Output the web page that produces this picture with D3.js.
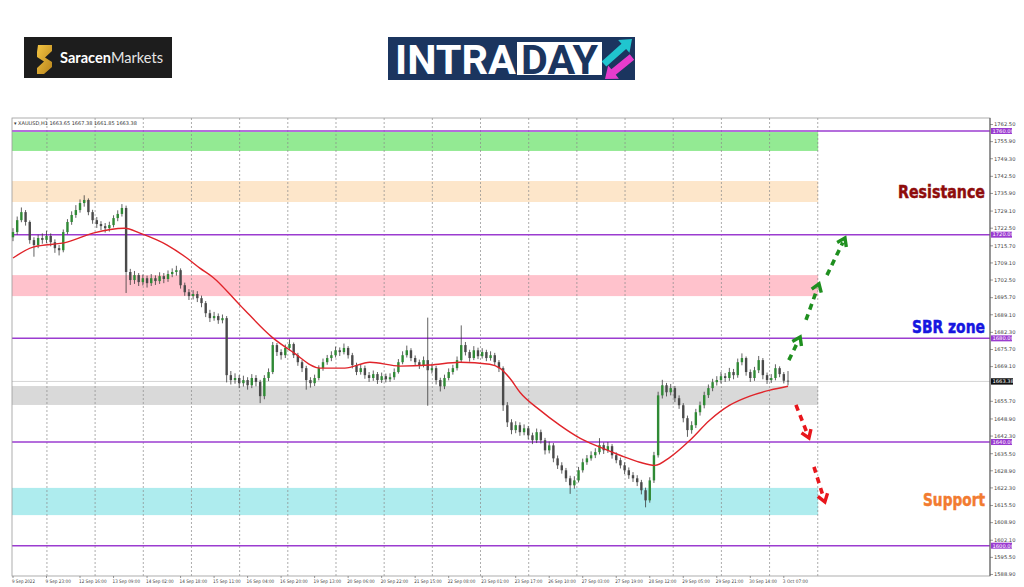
<!DOCTYPE html>
<html><head><meta charset="utf-8">
<script src="https://cdn.jsdelivr.net/npm/d3@7"></script>
<style>html,body{margin:0;padding:0;background:#fff;overflow:hidden}svg{display:block}</style>
</head><body>
<svg id="c" width="1024" height="587"></svg>
<script>
// ---------------- DATA ----------------
const symbolHeader = "\u25BE XAUUSD,H1  1663.65 1667.38 1661.85 1663.38";
const firstOpen = 1719;
const closes = [
1721,1725.6,1728.7,1724.9,1717.9,1716,1718.7,1718,1719.5,1717.1,
1714.8,1714,1721,1724.9,1727.6,1729.5,1732.2,1733.4,1728.7,1725.6,
1724.1,1723.3,1722.5,1723.7,1726.4,1728,1730.3,1705.6,1702.5,1704.4,
1701.7,1703.2,1701.3,1703.2,1702.1,1704,1702.9,1704.8,1705.6,1706.3,
1700.5,1697.8,1696.3,1697.1,1695.5,1693.6,1689.7,1687.8,1688.6,1687,
1687.8,1665.8,1663.9,1664.7,1662.7,1663.9,1661.9,1664.7,1663.2,1657.7,
1664.7,1667,1677.4,1674.7,1673.5,1676.3,1677.8,1673.5,1670.8,1668.5,
1663.9,1662.7,1664.7,1668.5,1670.8,1672.4,1673.5,1675.4,1674.7,1676.3,
1673.5,1669.7,1667,1668.5,1665.8,1664.7,1666.2,1663.9,1665.4,1664.2,
1665,1667,1670.8,1673.5,1675.4,1672.4,1670.8,1669.7,1671.6,1667.7,
1668.5,1663.9,1661.5,1664.7,1667,1668.5,1671.6,1677.4,1674.7,1672.4,
1675.4,1673.1,1674.7,1672.4,1673.5,1670.8,1668.5,1654.2,1647.6,1644.6,
1646.5,1643.8,1645.3,1642.6,1640.7,1643.8,1640.7,1636.8,1638.7,1633.7,
1631,1629.1,1626,1623.3,1625.2,1629.1,1632.2,1633.7,1634.9,1636.1,
1638.8,1636.8,1638.4,1634.9,1633,1631,1629.1,1627.2,1626,1624.5,
1621.4,1617.5,1625.2,1634.9,1658,1661.9,1659.2,1660.8,1656.9,1654.2,
1649.2,1644.6,1646.5,1651.5,1654.2,1658.1,1660.8,1663.1,1663.9,1665.4,
1664.7,1667,1665.8,1670.8,1672.4,1667,1664.7,1667.7,1671.6,1665.8,
1663.9,1664.7,1668.5,1666.2,1663.65,1663.38];
const highs = [
1722.5,1727,1730.5,1729.5,1725.5,1719,1720,1720.5,1721.5,1720.5,
1718.2,1716,1722,1726,1729,1731.4,1733.6,1735.2,1734,1729.6,
1726.8,1725.2,1724.5,1725,1727.5,1729.4,1731.8,1731.2,1706.8,1706,
1705.2,1704.6,1704.2,1704.8,1704.3,1705.5,1705.2,1706.2,1707,1708,
1707,1701.5,1699,1698.6,1698.2,1696.5,1694.4,1691,1690.2,1689.6,
1689.2,1688.6,1667.4,1666.5,1665.8,1665.6,1665,1666.2,1665.8,1664,
1665.8,1668.4,1678.6,1678.2,1675.8,1677.6,1679.6,1678.4,1674.4,1671.6,
1669.4,1665,1666,1669.6,1672.2,1673.6,1675,1676.8,1676.5,1678,
1677,1674.4,1670.6,1670,1669.5,1667,1667.6,1667,1666.8,1666.4,
1666.5,1668.4,1672,1675,1677.2,1676.2,1673.4,1671.8,1673,1688,
1670.2,1669.4,1664.8,1666,1668.4,1669.8,1673,1685,1678.6,1675.6,
1677,1676.4,1676.2,1675.6,1675,1674.4,1671.6,1669.2,1655.4,1648.8,
1648,1647.6,1646.8,1646.2,1643.6,1645.2,1644.8,1641.6,1640.2,1639.6,
1634.8,1632.2,1630,1627,1626.8,1630.4,1633.6,1635,1636.4,1637.6,
1641.5,1639.8,1640,1639.2,1636,1634,1632.2,1630.2,1628.4,1627.2,
1625.4,1622.4,1626.4,1636.2,1659.4,1664,1662.8,1662.4,1661.6,1658,
1655,1650.2,1648,1652.8,1655.6,1659.4,1662.2,1664.4,1665.4,1667,
1666.6,1668.6,1668.2,1672.2,1674.2,1673,1668,1669,1673.2,1672.4,
1666.8,1666.2,1670,1669.2,1667,1667.38];
const lows = [
1717.5,1720,1724.8,1723.5,1716.5,1711.5,1714.8,1716.5,1716.8,1715.5,
1713,1712,1713.2,1720.2,1723.8,1726.5,1728.5,1730.8,1727.5,1724.2,
1722.6,1721.8,1720.8,1721.2,1722.8,1725.2,1727,1697.5,1700.6,1701,
1700.2,1700.4,1699.6,1700.2,1700.6,1701,1701.3,1701.8,1703.6,1704.2,
1699.2,1696.4,1694.8,1695,1694,1692,1688.2,1686.3,1686.8,1685.6,
1685.8,1663,1662.2,1662.5,1660.8,1661.4,1660.2,1660.8,1661.5,1655,
1656.5,1663.5,1666.2,1673.2,1671.8,1672.4,1675.4,1672.4,1669.4,1667,
1660.2,1661,1661.6,1663.8,1667.5,1669.8,1671.2,1672.6,1673.2,1673.8,
1672.2,1668.4,1665.8,1666,1664.4,1663.2,1663.6,1662.4,1662.8,1663,
1663.2,1664,1666.4,1670,1672.6,1671.2,1669.6,1668.2,1668.8,1654,
1666.4,1662.2,1659.5,1660.4,1663.8,1666,1667.6,1670.8,1673.4,1671,
1671.6,1672,1672.2,1671.2,1671.4,1669.6,1667,1652,1645.8,1643,
1643.4,1642.4,1642.6,1641,1639.2,1639.6,1639.4,1635.2,1635.6,1632.2,
1629.6,1627.8,1624.6,1620,1622,1624.4,1628.2,1631.2,1632.8,1633.8,
1635.2,1635.4,1635.8,1633.6,1631.8,1629.8,1627.6,1625.8,1624.6,1623,
1619.8,1614.8,1616.6,1624.2,1634,1656.8,1657.6,1658,1655.4,1652.8,
1647.6,1642,1643.2,1645.4,1650.2,1653,1657,1659.6,1661.8,1662.6,
1663.2,1663.6,1664.2,1664.8,1669.6,1665.6,1663.2,1663.6,1666.6,1664.2,
1662.4,1662.8,1663.8,1665,1662.6,1661.85];
// moving average (candle index, price)
const maIndex = [0,4.8,12.9,19.1,26.7,30.3,36.8,41.5,44.6,47.7,54.2,62.1,66.8,73.3,79.2,85.2,92.4,99.5,106.7,113.8,116.2,118.6,121,125.8,130.5,135.3,140.1,144.9,149.6,153.2,156.8,161.6,166.3,171.1,175.9,180.7,185];
const maValues = [1711,1715.2,1717.1,1720.6,1722.5,1720.6,1716,1711,1707.1,1703.6,1692.8,1680.1,1674.7,1668.5,1668.5,1670.8,1669.3,1669.7,1670.8,1670,1668.5,1664.6,1659.2,1652.3,1646.5,1641.5,1638,1634.9,1632.2,1631,1634.1,1640.7,1648.4,1654.2,1657.7,1660,1661.5];
const levels = [1760,1720,1680,1640,1600];
const levelLabels = ["1760.00","1720.00","1680.00","1640.00","1600.00"];
const zoneLow  = [1752.3,1732.6,1696.3,1654.3,1611.8];
const zoneHigh = [1759.6,1740.7,1704.4,1661.6,1622.3];
const zoneColors = ["#93ea93","#fde6ca","#ffc2cc","#d9d9d9","#aeecee"];
const lastPrice = 1663.38;
const lastPriceLabel = "1663.38";
const yTickLabels = ["1762.50","1755.90","1749.30","1742.50","1735.90","1729.10","1722.50","1715.70","1709.10","1702.50","1695.70","1689.10","1682.30","1675.70","1669.10","1655.70","1648.90","1642.30","1635.50","1628.90","1622.30","1615.50","1608.90","1602.10","1595.50","1588.90"];
const xTickLabels = ["9 Sep 2022","9 Sep 23:00","12 Sep 16:00","13 Sep 09:00","14 Sep 02:00","14 Sep 18:00","15 Sep 11:00","16 Sep 04:00","16 Sep 20:00","19 Sep 13:00","20 Sep 06:00","20 Sep 22:00","21 Sep 15:00","22 Sep 08:00","23 Sep 01:00","23 Sep 17:00","26 Sep 10:00","27 Sep 03:00","27 Sep 19:00","28 Sep 12:00","29 Sep 05:00","29 Sep 21:00","30 Sep 14:00","3 Oct 07:00"];
const upArrowFrom = [[185.2,1671.6],[189.3,1687.1],[194.3,1704.4]];
const upArrowTo   = [[187.9,1680.5],[192.4,1701.0],[198.6,1718.7]];
const downArrowFrom = [[186.9,1654.3],[191.2,1630.4]];
const downArrowTo   = [[190.0,1641.6],[193.8,1616.9]];
const notes = [
  {text:"Resistance", price:1734.3, color:"#8e0c0c", size:18, len:87},
  {text:"SBR zone",   price:1682.0, color:"#1616e0", size:17, len:73},
  {text:"Support",    price:1615.4, color:"#f27b30", size:17, len:62}
];

// ---------------- LAYOUT ----------------
const svg = d3.select("#c");
const L = 12, R = 990, T = 118, B = 576;
const x = d3.scaleLinear().domain([0,185]).range([13,788]);
const y = d3.scaleLinear().domain([1600,1760]).range([545.7,131]);
const zoneEnd = 192.2;
const gridStart = 8.1, gridStep = 11.5, gridCount = 17;
const noteRight = 985;

// ---------------- LOGOS ----------------
const lg = svg.append("g");
lg.append("rect").attr("x",24).attr("y",37).attr("width",148).attr("height",41).attr("fill","#1d1d1d");
const defs = svg.append("defs");
const gold = defs.append("linearGradient").attr("id","gold").attr("x1","0").attr("y1","0").attr("x2","1").attr("y2","1");
gold.append("stop").attr("offset","0").attr("stop-color","#f4c542");
gold.append("stop").attr("offset","1").attr("stop-color","#b8841c");
lg.append("path").attr("d","M38,45 L52,45 L52,51 L45,57.5 L52,62 L52,67 L44,74 L37,74 L37,68 L44,61.5 L37,57 L37,52 Z").attr("fill","url(#gold)");
const st = lg.append("text").attr("x",60).attr("y",63).attr("font-family","Lato, 'Open Sans', sans-serif").attr("font-size",15).attr("fill","#fff")
  .attr("textLength",103).attr("lengthAdjust","spacingAndGlyphs");
st.append("tspan").attr("font-weight",700).text("Saracen");
st.append("tspan").attr("font-weight",400).attr("fill","#e6e6e6").text("Markets");

const ig = svg.append("g");
ig.append("rect").attr("x",388).attr("y",37).attr("width",247).attr("height",43).attr("fill","#1b355f");
ig.append("text").attr("x",395).attr("y",73.5).attr("font-family","Roboto, 'Open Sans', sans-serif").attr("font-weight",700)
  .attr("font-size",40).attr("fill","#fff").attr("textLength",121).attr("lengthAdjust","spacingAndGlyphs").text("INTRA");
ig.append("rect").attr("x",517).attr("y",42).attr("width",85).attr("height",33).attr("fill","#fff");
ig.append("text").attr("x",521).attr("y",73.5).attr("font-family","Roboto, 'Open Sans', sans-serif").attr("font-weight",700)
  .attr("font-size",40).attr("fill","#1b355f").attr("textLength",77).attr("lengthAdjust","spacingAndGlyphs").text("DAY");
function blockArrow(g, x0,y0,x1,y1, sw, hw, hl, fill){
  const dx=x1-x0, dy=y1-y0, len=Math.hypot(dx,dy), ux=dx/len, uy=dy/len, px=-uy, py=ux;
  const bx=x1-ux*hl, by=y1-uy*hl;
  const pts=[[x0+px*sw/2,y0+py*sw/2],[bx+px*sw/2,by+py*sw/2],[bx+px*hw/2,by+py*hw/2],[x1,y1],
    [bx-px*hw/2,by-py*hw/2],[bx-px*sw/2,by-py*sw/2],[x0-px*sw/2,y0-py*sw/2]];
  g.append("polygon").attr("points",pts.map(p=>p.join(",")).join(" ")).attr("fill",fill);
}
blockArrow(ig,604,64,632,39,7,17,11,"#20c5cf");
blockArrow(ig,632,57,605,79,7,17,11,"#e63ccc");

// ---------------- CHART ----------------
const cg = svg.append("g");
cg.selectAll("rect.zone").data(zoneLow).join("rect").attr("class","zone")
  .attr("x",L).attr("width",x(zoneEnd)-L)
  .attr("y",(d,i)=>y(zoneHigh[i])).attr("height",(d,i)=>y(zoneLow[i])-y(zoneHigh[i]))
  .attr("fill",(d,i)=>zoneColors[i]);
cg.selectAll("line.vg").data(d3.range(gridCount)).join("line").attr("class","vg")
  .attr("x1",k=>x(gridStart+gridStep*k)).attr("x2",k=>x(gridStart+gridStep*k))
  .attr("y1",T).attr("y2",B).attr("stroke","#8a8a8a").attr("stroke-width",0.7).attr("stroke-dasharray","2,2");
cg.append("line").attr("x1",L).attr("x2",R).attr("y1",y(lastPrice)).attr("y2",y(lastPrice)).attr("stroke","#c8c8c8").attr("stroke-width",0.8);
cg.selectAll("line.lv").data(levels).join("line").attr("class","lv")
  .attr("x1",L).attr("x2",R).attr("y1",d=>y(d)).attr("y2",d=>y(d)).attr("stroke","#9b3cd0").attr("stroke-width",1.5);
cg.append("rect").attr("x",L).attr("y",T).attr("width",R-L).attr("height",B-T).attr("fill","none").attr("stroke","#9a9a9a").attr("stroke-width",0.8);
cg.append("line").attr("x1",R).attr("x2",R).attr("y1",T).attr("y2",B).attr("stroke","#555").attr("stroke-width",1);

// candles
const candles = closes.map((c,i)=>({i, o: i===0?firstOpen:closes[i-1], h:highs[i], l:lows[i], c}));
const cw = 2.4;
cg.selectAll("line.wick").data(candles).join("line").attr("class","wick")
  .attr("x1",d=>x(d.i)).attr("x2",d=>x(d.i)).attr("y1",d=>y(d.h)).attr("y2",d=>y(d.l))
  .attr("stroke","#3a3a3a").attr("stroke-width",0.8);
cg.selectAll("rect.body").data(candles).join("rect").attr("class","body")
  .attr("x",d=>x(d.i)-cw/2).attr("width",cw)
  .attr("y",d=>y(Math.max(d.o,d.c))).attr("height",d=>Math.max(0.8,Math.abs(y(d.o)-y(d.c))))
  .attr("fill",d=>d.c>=d.o?"#2f8a35":"#4a4a4a");

// moving average
const ma = maIndex.map((v,i)=>[v,maValues[i]]);
cg.append("path").datum(ma).attr("fill","none").attr("stroke","#e0242a").attr("stroke-width",1.4)
  .attr("d",d3.line().x(d=>x(d[0])).y(d=>y(d[1])).curve(d3.curveMonotoneX));

// dashed arrows
function dashArrow(from,to,color){
  const x0=x(from[0]),y0=y(from[1]),x1=x(to[0]),y1=y(to[1]);
  const dx=x1-x0, dy=y1-y0, len=Math.hypot(dx,dy), ux=dx/len, uy=dy/len;
  cg.append("line").attr("x1",x0).attr("y1",y0).attr("x2",x1-ux*5).attr("y2",y1-uy*5)
    .attr("stroke",color).attr("stroke-width",3.6).attr("stroke-dasharray","6,5");
  const a=0.6, hl=9;
  const p1=[x1-hl*(ux*Math.cos(a)-uy*Math.sin(a)), y1-hl*(uy*Math.cos(a)+ux*Math.sin(a))];
  const p2=[x1-hl*(ux*Math.cos(-a)-uy*Math.sin(-a)), y1-hl*(uy*Math.cos(-a)+ux*Math.sin(-a))];
  cg.append("polyline").attr("points",[p1,[x1,y1],p2].map(p=>p.join(",")).join(" "))
    .attr("fill","none").attr("stroke",color).attr("stroke-width",3.4).attr("stroke-linejoin","miter");
}
upArrowFrom.forEach((f,i)=>dashArrow(f,upArrowTo[i],"#1f8f1f"));
downArrowFrom.forEach((f,i)=>dashArrow(f,downArrowTo[i],"#e8161c"));

// notes: measured, then horizontally scaled so the visible box is exactly [noteRight-len, noteRight]
notes.forEach(n=>{
  const t = cg.append("text").attr("x",0).attr("y",0)
    .attr("font-family","'DejaVu Sans', Roboto, sans-serif").attr("font-weight",700)
    .attr("font-size",n.size).attr("fill",n.color).attr("stroke",n.color).attr("stroke-width",0.5).text(n.text);
  const w = t.node().getComputedTextLength();
  const sx = n.len / w;
  t.attr("transform",`translate(${noteRight-n.len},${y(n.price)}) scale(${sx},1)`);
});

// header
cg.append("text").attr("x",14).attr("y",125).attr("font-family","'DejaVu Sans', sans-serif").attr("font-size",5).attr("fill","#333").text(symbolHeader);

// right axis labels
const ax = svg.append("g").attr("font-family","'DejaVu Sans', sans-serif").attr("font-size",5.2);
ax.selectAll("line.yt").data(yTickLabels).join("line").attr("class","yt")
  .attr("x1",R).attr("x2",R+3).attr("y1",d=>y(+d)).attr("y2",d=>y(+d)).attr("stroke","#555").attr("stroke-width",0.6);
ax.selectAll("text.yl").data(yTickLabels).join("text").attr("class","yl")
  .attr("x",R+4).attr("y",d=>y(+d)).attr("dy","0.35em").attr("fill","#444").text(d=>d);
levels.forEach((v,i)=>{
  ax.append("rect").attr("x",R+1).attr("y",y(v)-3).attr("width",21).attr("height",6).attr("fill","#9b3cd0");
  ax.append("text").attr("x",R+2.5).attr("y",y(v)).attr("dy","0.35em").attr("fill","#fff").text(levelLabels[i]);
});
ax.append("rect").attr("x",R+1).attr("y",y(lastPrice)-3.2).attr("width",22).attr("height",6.4).attr("fill","#111");
ax.append("text").attr("x",R+2.5).attr("y",y(lastPrice)).attr("dy","0.35em").attr("fill","#fff").text(lastPriceLabel);

// bottom axis labels
ax.selectAll("line.xt").data(xTickLabels).join("line").attr("class","xt")
  .attr("x1",(d,k)=>x(8*k)).attr("x2",(d,k)=>x(8*k)).attr("y1",B).attr("y2",B+2).attr("stroke","#555").attr("stroke-width",0.6);
ax.selectAll("text.xl").data(xTickLabels).join("text").attr("class","xl")
  .attr("x",(d,k)=>x(8*k)-1).attr("y",582.5).attr("fill","#444").attr("font-size",4.8)
  .attr("textLength",d=>d.length*2.3).attr("lengthAdjust","spacingAndGlyphs").text(d=>d);
</script>
</body></html>
